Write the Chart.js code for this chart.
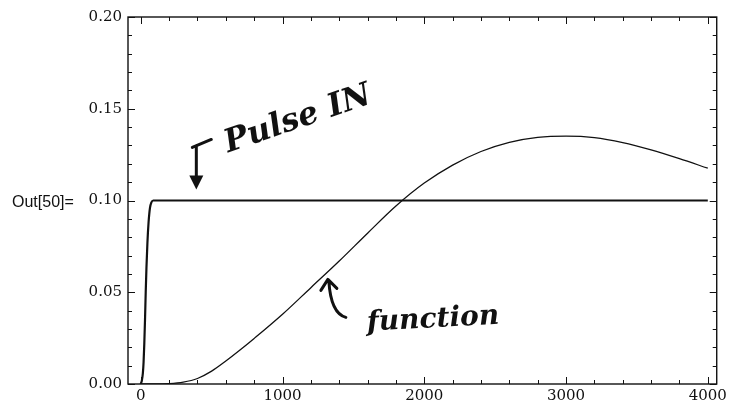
<!DOCTYPE html>
<html>
<head>
<meta charset="utf-8">
<script src="https://cdn.jsdelivr.net/npm/chart.js@4"></script>
<style>
  html, body { margin: 0; padding: 0; background: #fff; }
  #plot { display: block; }
</style>
</head>
<body>
<canvas id="plot" width="730" height="406"></canvas>
<script>
  // tick labels
  const xTicks = [0, 1000, 2000, 3000, 4000];
  const yTicks = [0, 0.05, 0.10, 0.15, 0.20];

  // input pulse (steep rise then flat)
  const pulseX = [0, 8, 15, 20, 25, 30, 35, 40, 47, 55, 65, 75, 88, 4000];
  const pulseY = [0, 0.002, 0.006, 0.012, 0.022, 0.035, 0.05, 0.063, 0.077, 0.088, 0.096, 0.099, 0.1, 0.1];

  // response function
  const funcX = [0, 100, 200, 300, 400, 500, 600, 700, 800, 1000, 1200, 1400, 1600, 1800,
                 2000, 2200, 2400, 2600, 2800, 3000, 3200, 3400, 3600, 3800, 4000];
  const funcY = [0, 0, 0.0002, 0.001, 0.003, 0.007, 0.0125, 0.0185, 0.0248, 0.038, 0.0525, 0.067, 0.0822, 0.097,
                 0.1095, 0.1193, 0.1267, 0.1317, 0.1344, 0.1351, 0.1343, 0.1316, 0.1276, 0.1228, 0.1176];

  const toPoints = (xs, ys) => xs.map((x, i) => ({ x: x, y: ys[i] }));

  const ink = "#111";
  const serif = "'DejaVu Serif', 'Liberation Serif', serif";

  // frame, inward ticks and the handwritten notes
  const framePlugin = {
    id: "frame",
    afterDraw(chart) {
      const c = chart.ctx;
      const a = chart.chartArea;
      const xs = chart.scales.x, ys = chart.scales.y;
      c.save();
      c.strokeStyle = ink;
      c.lineWidth = 1.4;
      c.strokeRect(a.left, a.top, a.right - a.left, a.bottom - a.top);

      c.lineWidth = 1;
      c.beginPath();
      for (let v = 0; v <= 4000; v += 200) {
        const p = Math.round(xs.getPixelForValue(v)) + 0.5;
        const len = v % 1000 === 0 ? 7 : 4;
        c.moveTo(p, a.bottom); c.lineTo(p, a.bottom - len);
        c.moveTo(p, a.top); c.lineTo(p, a.top + len);
      }
      for (let k = 0; k <= 20; k++) {
        const p = Math.round(ys.getPixelForValue(k / 100)) + 0.5;
        const len = k % 5 === 0 ? 7 : 4;
        c.moveTo(a.left, p); c.lineTo(a.left + len, p);
        c.moveTo(a.right, p); c.lineTo(a.right - len, p);
      }
      c.stroke();

      // Out[50]= label
      c.fillStyle = ink;
      c.font = "16px 'Liberation Sans', Arial, sans-serif";
      c.textBaseline = "middle";
      c.textAlign = "left";
      c.fillText("Out[50]=", 12, ys.getPixelForValue(0.1) + 2);

      // handwritten notes
      c.lineWidth = 3;
      c.lineCap = "round";
      c.lineJoin = "round";

      // Pulse IN arrow
      const tip = { x: xs.getPixelForValue(392), y: ys.getPixelForValue(0.106) };
      c.beginPath();
      c.moveTo(tip.x - 4, tip.y - 42);
      c.lineTo(tip.x + 15, tip.y - 50);
      c.moveTo(tip.x, tip.y - 44);
      c.lineTo(tip.x, tip.y - 8);
      c.stroke();
      c.beginPath();
      c.moveTo(tip.x, tip.y);
      c.lineTo(tip.x - 7, tip.y - 14);
      c.lineTo(tip.x + 7, tip.y - 14);
      c.closePath();
      c.fill();

      c.save();
      c.translate(tip.x + 32, tip.y - 37);
      c.rotate(-19 * Math.PI / 180);
      c.font = "italic bold 32px 'DejaVu Serif', serif";
      c.textBaseline = "alphabetic";
      c.fillText("Pulse IN", 0, 0);
      c.restore();

      // function arrow
      const ftip = { x: xs.getPixelForValue(1320), y: ys.getPixelForValue(0.057) };
      c.beginPath();
      c.moveTo(ftip.x - 7, ftip.y + 11);
      c.lineTo(ftip.x, ftip.y);
      c.lineTo(ftip.x + 9, ftip.y + 9);
      c.moveTo(ftip.x + 1, ftip.y + 2);
      c.quadraticCurveTo(ftip.x + 3, ftip.y + 34, ftip.x + 18, ftip.y + 38);
      c.stroke();

      c.save();
      c.translate(ftip.x + 39, ftip.y + 44);
      c.rotate(-3 * Math.PI / 180);
      c.font = "italic bold 28px 'DejaVu Serif', serif";
      c.fillText("function", 0, 0);
      c.restore();

      c.restore();
    }
  };

  new Chart(document.getElementById("plot"), {
    type: "line",
    data: {
      datasets: [
        {
          label: "Pulse IN",
          data: toPoints(pulseX, pulseY),
          borderColor: ink,
          borderWidth: 2.2,
          pointRadius: 0,
          cubicInterpolationMode: "monotone"
        },
        {
          label: "function",
          data: toPoints(funcX, funcY),
          borderColor: ink,
          borderWidth: 1.3,
          pointRadius: 0,
          cubicInterpolationMode: "monotone"
        }
      ]
    },
    options: {
      responsive: false,
      animation: false,
      layout: { padding: { top: 17, right: 8, left: 0, bottom: 0 } },
      plugins: {
        legend: { display: false },
        tooltip: { enabled: false }
      },
      scales: {
        x: {
          type: "linear",
          min: -90,
          max: 4063,
          grid: { display: false, drawTicks: false },
          border: { display: false },
          afterBuildTicks: s => { s.ticks = xTicks.map(v => ({ value: v })); },
          afterFit: s => { s.height = 22; },
          ticks: {
            color: ink,
            padding: 3,
            maxRotation: 0,
            font: { family: serif, size: 15 },
            callback: v => String(v)
          }
        },
        y: {
          min: 0,
          max: 0.2,
          grid: { display: false, drawTicks: false },
          border: { display: false },
          afterBuildTicks: s => { s.ticks = yTicks.map(v => ({ value: v })); },
          afterFit: s => { s.width = 128; },
          ticks: {
            color: ink,
            padding: 6,
            font: { family: serif, size: 15 },
            callback: v => Number(v).toFixed(2)
          }
        }
      }
    },
    plugins: [framePlugin]
  });
</script>
</body>
</html>
